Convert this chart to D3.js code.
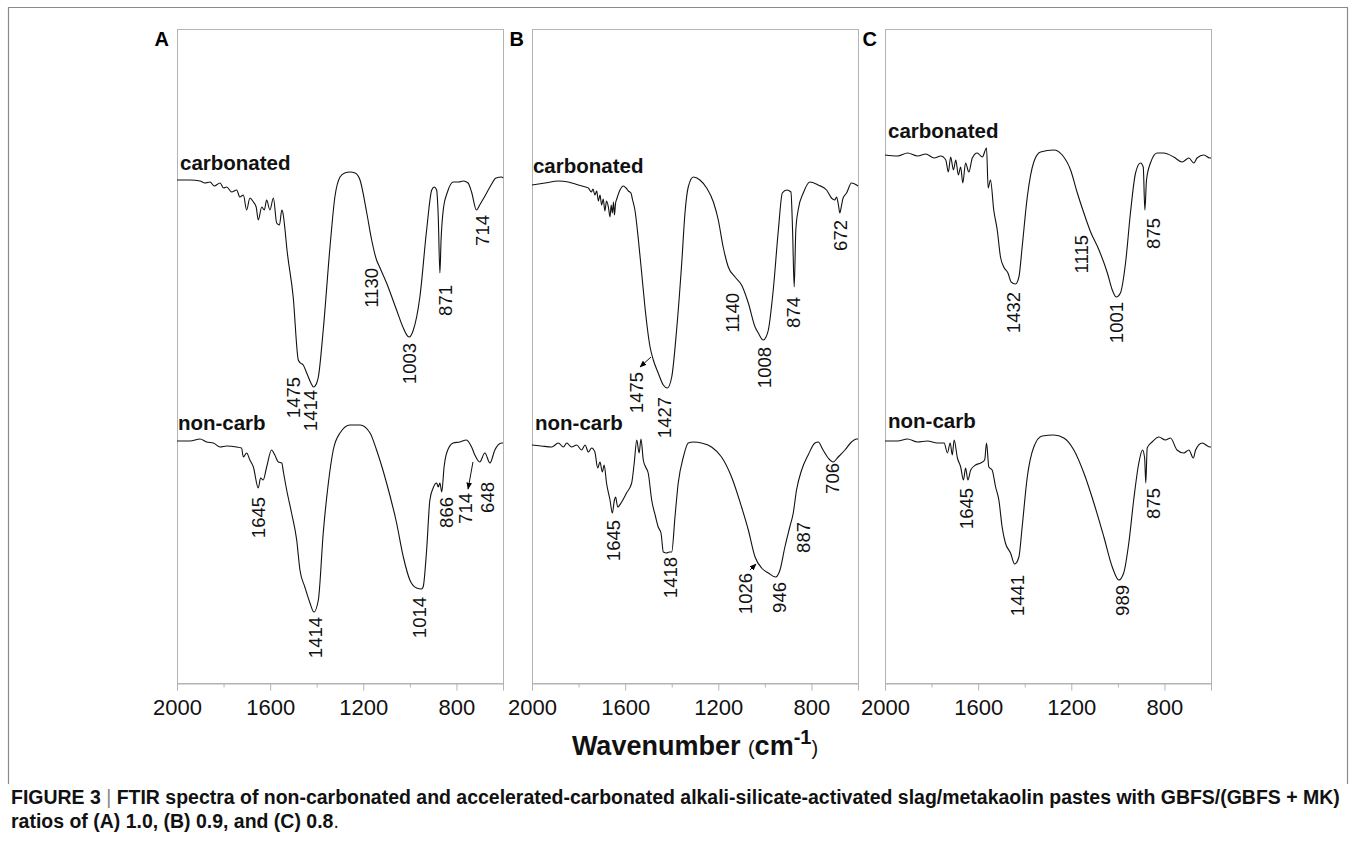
<!DOCTYPE html>
<html><head><meta charset="utf-8">
<script src="https://cdn.jsdelivr.net/npm/d3@7"></script>
<style>body{margin:0;background:#fff}svg{display:block}</style>
</head><body><svg id="c" width="1356" height="847"></svg>
<script>
// ---------- data (wavenumber cm-1, relative transmittance a.u.) ----------
const panelNames = ["A", "B", "C"];
const majorTicks = [2000, 1600, 1200, 800];
const minorTicks = [1800, 1400, 1000, 600];
const xDomain = [2000, 600];
const yDomain = [0, 654];

const A_carb = [[2000,503],[1944,503],[1901,502],[1880,500],[1858,501],[1840,497],[1815,500],[1800,495],[1787,496],[1765,491],[1744,493],[1730,486],[1715,488],[1701,473],[1687,485],[1672,481],[1660,476],[1651,463],[1636,476],[1625,473],[1615,483],[1601,473],[1586,485],[1572,460],[1560,458],[1550,473],[1545,470],[1536,453],[1529,436],[1501,386],[1479,323],[1470,320],[1458,318],[1443,310],[1425,300],[1414,296],[1400,300],[1393,306],[1372,353],[1343,436],[1322,486],[1300,506],[1280,510],[1257,511],[1235,510],[1214,503],[1185,470],[1164,443],[1143,423],[1130,416],[1100,400],[1057,373],[1028,355],[1010,347],[1003,346],[985,353],[957,386],[928,453],[906,493],[895,496],[885,493],[878,466],[871,410],[866,443],[855,476],[840,490],[814,501],[790,501],[771,502],[750,500],[735,491],[714,473],[700,478],[680,486],[656,496],[630,505],[606,506],[600,505]];
const A_non = [[2000,242],[1944,242],[1901,244],[1873,241],[1844,240],[1815,236],[1787,237],[1744,236],[1723,235],[1715,226],[1701,230],[1687,223],[1672,216],[1651,195],[1641,205],[1630,203],[1615,216],[1594,233],[1580,228],[1565,221],[1550,220],[1543,211],[1529,193],[1508,170],[1486,143],[1472,113],[1451,96],[1429,80],[1412,71],[1393,83],[1372,150],[1350,200],[1329,233],[1300,250],[1257,258],[1214,258],[1171,250],[1143,233],[1100,200],[1057,160],[1028,126],[1000,103],[971,95],[950,94],[943,96],[928,133],[914,183],[900,195],[885,200],[878,196],[871,200],[863,191],[853,216],[842,230],[814,240],[785,241],[757,243],[735,236],[721,228],[700,221],[678,230],[656,220],[635,233],[606,240],[600,240]];
const B_carb = [[2000,498],[1944,500],[1887,502],[1844,501],[1801,498],[1770,496],[1758,495],[1745,491],[1738,494],[1730,488],[1722,492],[1715,482],[1708,488],[1701,478],[1694,484],[1687,472],[1680,482],[1672,476],[1665,466],[1660,478],[1655,470],[1650,481],[1646,468],[1641,480],[1636,484],[1622,493],[1608,497],[1596,495],[1586,492],[1575,490],[1569,484],[1558,473],[1543,443],[1529,410],[1515,376],[1493,336],[1479,323],[1458,310],[1436,298],[1419,295],[1400,306],[1379,353],[1357,420],[1343,470],[1329,496],[1307,506],[1279,503],[1250,495],[1221,481],[1200,463],[1179,436],[1157,416],[1128,406],[1100,398],[1071,380],[1042,356],[1028,350],[1007,343],[995,346],[985,353],[964,393],[942,453],[925,490],[906,493],[888,491],[881,453],[874,396],[867,453],[857,473],[835,490],[807,501],[771,498],[735,493],[714,485],[700,483],[692,486],[684,478],[678,470],[672,476],[664,485],[649,490],[628,500],[606,498],[600,497]];
const B_non = [[2000,238],[1960,237],[1915,236],[1887,240],[1865,236],[1851,240],[1830,236],[1808,238],[1787,233],[1772,238],[1758,231],[1744,235],[1730,231],[1718,215],[1708,221],[1698,211],[1690,218],[1680,200],[1665,183],[1655,170],[1646,183],[1641,186],[1632,176],[1615,181],[1594,190],[1572,200],[1561,220],[1550,243],[1540,230],[1532,244],[1522,223],[1512,216],[1501,210],[1486,183],[1469,166],[1458,156],[1446,150],[1436,131],[1422,130],[1410,131],[1400,131],[1386,166],[1372,200],[1350,226],[1329,240],[1307,241],[1272,240],[1229,236],[1186,226],[1143,206],[1100,176],[1071,153],[1042,126],[1014,115],[985,110],[954,106],[935,113],[914,136],[893,156],[878,170],[864,193],[842,213],[814,228],[785,240],[771,241],[750,233],[728,225],[707,221],[685,226],[656,233],[628,241],[606,244],[600,244]];
const C_carb = [[2000,528],[1946,527],[1903,530],[1860,527],[1825,529],[1789,525],[1760,527],[1739,523],[1728,511],[1718,526],[1706,513],[1696,523],[1685,508],[1675,516],[1666,500],[1654,520],[1640,511],[1625,525],[1604,530],[1582,526],[1564,535],[1557,495],[1547,503],[1533,473],[1518,453],[1504,426],[1490,416],[1472,410],[1458,401],[1440,399],[1425,406],[1411,436],[1389,486],[1361,521],[1332,531],[1275,533],[1239,528],[1203,513],[1174,490],[1146,470],[1117,451],[1081,433],[1045,410],[1024,393],[1007,386],[989,390],[967,420],[946,470],[924,510],[903,520],[891,516],[884,473],[877,503],[860,520],[831,530],[803,530],[760,526],[724,521],[695,525],[674,520],[660,525],[631,528],[605,525],[600,525]];
const C_non = [[2000,242],[1946,242],[1903,244],[1860,241],[1818,242],[1775,240],[1746,240],[1732,230],[1720,240],[1711,228],[1703,243],[1689,225],[1675,216],[1663,203],[1654,215],[1644,203],[1632,213],[1611,218],[1589,220],[1572,223],[1564,240],[1554,216],[1540,213],[1525,196],[1511,183],[1497,156],[1483,140],[1461,130],[1443,119],[1425,126],[1411,156],[1389,206],[1361,236],[1325,247],[1275,248],[1232,245],[1189,233],[1146,210],[1103,180],[1060,146],[1024,116],[996,103],[975,110],[953,140],[932,183],[910,220],[894,233],[885,225],[880,200],[874,235],[853,241],[824,246],[796,243],[774,245],[746,233],[717,230],[695,233],[676,225],[666,233],[638,240],[605,236],[600,236]];

// sample names: [text, wavenumber, value]
const A_names = [["carbonated",1987,513],["non-carb",1996,253]];
const B_names = [["carbonated",1996,510],["non-carb",1987,253]];
const C_names = [["carbonated",1987,545],["non-carb",1987,255]];

// band labels: [text, wavenumber, value at top of label]
const A_peaks = [["1475",1498,306],["1414",1425,293],["1130",1163,415],["1003",1000,340],["871",849,398],["714",690,468],
                 ["1645",1652,186],["1414",1407,66],["1014",957,86],["866",841,186],["714",763,190],["648",665,201]];
const B_peaks = [["1475",1553,311],["1427",1429,286],["1140",1141,390],["1008",1000,336],["874",875,386],["672",677,463],
                 ["1645",1652,163],["1418",1407,126],["1026",1085,110],["946",935,101],["887",836,161],["706",708,220]];
const C_peaks = [["1432",1450,391],["1115",1154,448],["1001",1004,381],["875",849,465],
                 ["1645",1648,195],["1441",1433,108],["989",982,98],["875",849,195]];

// arrows: [w1, v1, w2, v2] (from -> to)
const A_arrows = [[729,221,750,194]];
const B_arrows = [[1489,326,1536,316],[1064,113,1038,119]];
const C_arrows = [];

const captionLine1 = ["FIGURE 3", "FTIR spectra of non-carbonated and accelerated-carbonated alkali-silicate-activated slag/metakaolin pastes with GBFS/(GBFS + MK)"];
const captionLine2 = "ratios of (A) 1.0, (B) 0.9, and (C) 0.8";

// ---------- drawing ----------
const FONT = "'Liberation Sans', Arial, Helvetica, sans-serif";
const svg = d3.select("#c");
const W = 1356, H = 847;
svg.append("rect").attr("width", W).attr("height", H).attr("fill", "#fff");

// outer frame
svg.append("path").attr("d", "M8.5,784 V7.5 H1347.5 V784")
  .attr("fill", "none").attr("stroke", "#8a8a8a").attr("stroke-width", 1.2);

const defs = svg.append("defs");
defs.append("marker").attr("id", "ah").attr("viewBox", "0 0 10 10").attr("refX", 9).attr("refY", 5)
  .attr("markerWidth", 7).attr("markerHeight", 7).attr("orient", "auto-start-reverse")
  .append("path").attr("d", "M0,1 L10,5 L0,9 Z").attr("fill", "#000");

const panelLeft = [177, 532, 885];
const pw = 326, pTop = 29, pBottom = 683;
const series = [[A_carb, A_non], [B_carb, B_non], [C_carb, C_non]];
const names = [A_names, B_names, C_names];
const peaks = [A_peaks, B_peaks, C_peaks];
const arrows = [A_arrows, B_arrows, C_arrows];

panelNames.forEach((pn, i) => {
  const x0 = panelLeft[i];
  const xs = d3.scaleLinear().domain(xDomain).range([x0, x0 + pw]);
  const ys = d3.scaleLinear().domain(yDomain).range([pBottom, pTop]);
  const g = svg.append("g");

  g.append("rect").attr("x", x0 + 0.5).attr("y", pTop + 0.5).attr("width", pw).attr("height", pBottom - pTop)
    .attr("fill", "none").attr("stroke", "#b4b4b4").attr("stroke-width", 1);

  const ax = g.append("g").attr("transform", `translate(0,${pBottom + 0.5})`)
    .call(d3.axisBottom(xs).tickValues(majorTicks).tickSize(7).tickPadding(9).tickFormat(d3.format("d")));
  ax.select(".domain").attr("stroke", "#b4b4b4");
  ax.selectAll(".tick line").attr("stroke", "#b4b4b4");
  ax.selectAll(".tick text").attr("font-family", FONT).attr("font-size", 22).attr("fill", "#111");
  ax.selectAll(".minor").data(minorTicks).enter().append("line").attr("class", "minor")
    .attr("x1", d => xs(d) + 0.5).attr("x2", d => xs(d) + 0.5).attr("y1", 0).attr("y2", 4)
    .attr("stroke", "#b4b4b4");

  g.append("text").attr("x", x0 - 8).attr("y", 46).attr("text-anchor", "end")
    .attr("font-family", FONT).attr("font-weight", "bold").attr("font-size", 20).text(pn);

  const line = d3.line().x(d => xs(d[0])).y(d => ys(d[1])).curve(d3.curveMonotoneX);
  series[i].forEach(s => {
    g.append("path").attr("d", line(s)).attr("fill", "none").attr("stroke", "#111")
      .attr("stroke-width", 1.1).attr("stroke-linejoin", "round");
  });

  names[i].forEach(n => {
    g.append("text").attr("x", xs(n[1])).attr("y", ys(n[2]))
      .attr("font-family", FONT).attr("font-weight", "bold").attr("font-size", 20.5).attr("fill", "#111").text(n[0]);
  });

  peaks[i].forEach(p => {
    g.append("text").attr("transform", `translate(${xs(p[1])},${ys(p[2])}) rotate(-90)`)
      .attr("text-anchor", "end").attr("dy", "0.35em")
      .attr("font-family", FONT).attr("font-size", 18.5).attr("fill", "#111").text(p[0]);
  });

  arrows[i].forEach(a => {
    g.append("line").attr("x1", xs(a[0])).attr("y1", ys(a[1])).attr("x2", xs(a[2])).attr("y2", ys(a[3]))
      .attr("stroke", "#111").attr("stroke-width", 1).attr("marker-end", "url(#ah)");
  });
});

// axis title
const title = svg.append("text").attr("x", 695).attr("y", 755).attr("text-anchor", "middle")
  .attr("font-family", FONT).attr("fill", "#111");
title.append("tspan").attr("font-weight", "bold").attr("font-size", 27).text("Wavenumber ");
title.append("tspan").attr("font-size", 20).text("(");
title.append("tspan").attr("font-weight", "bold").attr("font-size", 27).text("cm");
title.append("tspan").attr("font-weight", "bold").attr("font-size", 20).attr("dy", -11).text("-1");
title.append("tspan").attr("font-size", 20).attr("dy", 11).text(")");

// caption
const cap1 = svg.append("text").attr("x", 11).attr("y", 804).attr("font-family", FONT).attr("fill", "#111")
  .attr("font-size", 16);
cap1.append("tspan").attr("font-weight", "bold").text(captionLine1[0] + " ");
cap1.append("tspan").attr("fill", "#888").attr("font-weight", "normal").text("|");
cap1.append("tspan").attr("font-weight", "bold").text(" " + captionLine1[1]);
const natural = cap1.node().getComputedTextLength();
const fs = 16 * 1330 / natural;
cap1.attr("font-size", fs);
const cap2 = svg.append("text").attr("x", 11).attr("y", 828).attr("font-family", FONT).attr("fill", "#111")
  .attr("font-size", fs);
cap2.append("tspan").attr("font-weight", "bold").text(captionLine2);
cap2.append("tspan").text(".");
</script></body></html>
